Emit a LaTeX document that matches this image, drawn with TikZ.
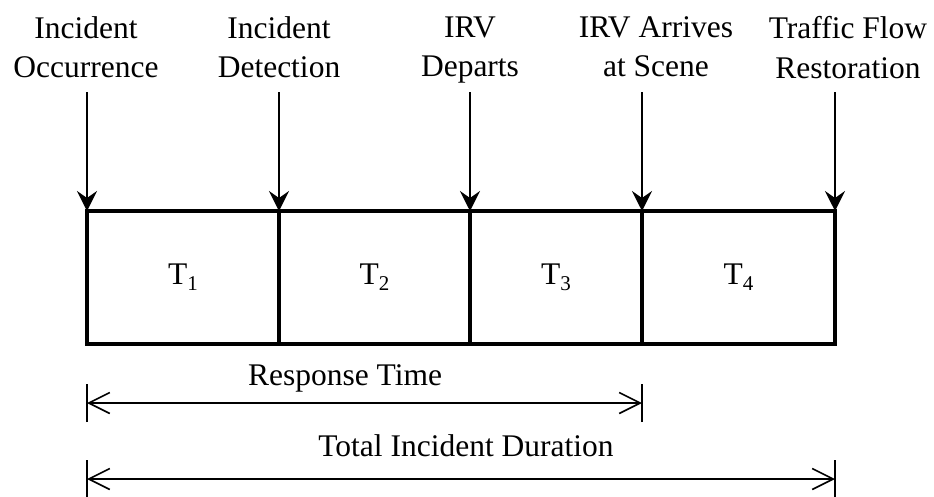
\documentclass[tikz,border=0pt]{standalone}
\usepackage{fontspec}
\setmainfont{Liberation Serif}
\usetikzlibrary{arrows.meta}
\newcommand{\lowidx}[1]{\raisebox{-6pt}{\fontsize{21}{21}\selectfont #1}}
\begin{document}
\begin{tikzpicture}[x=1pt,y=-1pt,
  every node/.style={font=\fontsize{31.5}{39.5}\selectfont, inner sep=0pt, outer sep=0pt},
  event/.style={anchor=north, align=center},
  cell/.style={draw, line width=3.5pt, minimum height=133pt},
  marker/.style={line width=1.8pt, -{Stealth[length=20pt, width=20pt, inset=7pt]}},
  span/.style={line width=1.6pt, {Straight Barb[length=21pt, width=21pt]}-{Straight Barb[length=21pt, width=21pt]}},
  spanbar/.style={line width=1.8pt}
]
\useasboundingbox (0,0) rectangle (934,496);

% timeline cells
\node[cell, minimum width=192pt] (c1) at (183,277.5) {T\lowidx{1}};
\node[cell, minimum width=191pt] (c2) at (374.5,277.5) {T\lowidx{2}};
\node[cell, minimum width=172pt] (c3) at (556,277.5) {T\lowidx{3}};
\node[cell, minimum width=193pt] (c4) at (738.5,277.5) {T\lowidx{4}};

% event labels
\node[event] (e1) at (86,16.5) {Incident\\Occurrence};
\node[event] (e2) at (279,16.5) {Incident\\Detection};
\node[event] (e3) at (470,16.5) {IRV\\Departs};
\node[event] (e4) at (656,16.5) {IRV Arrives\\at Scene};
\node[event] (e5) at (848,16.5) {Traffic Flow\\Restoration};

% event markers
\coordinate (a1) at (87,92);
\coordinate (a2) at (279,92);
\coordinate (a3) at (470,92);
\coordinate (a4) at (642,92);
\coordinate (a5) at (835,92);
\draw[marker] (a1) -- (c1.north west);
\draw[marker] (a2) -- (c2.north west);
\draw[marker] (a3) -- (c3.north west);
\draw[marker] (a4) -- (c4.north west);
\draw[marker] (a5) -- (c4.north east);

% response time span
\node (rt) at (345,378) {Response Time};
\coordinate (rs) at (87,403);
\coordinate (re) at (642,403);
\draw[span] (rs) -- (re);
\draw[spanbar] ([yshift=-19pt]rs) -- ([yshift=19pt]rs);
\draw[spanbar] ([yshift=-19pt]re) -- ([yshift=19pt]re);

% total duration span
\node (td) at (466,446) {Total Incident Duration};
\coordinate (ts) at (87,479);
\coordinate (te) at (835,479);
\draw[span] (ts) -- (te);
\draw[spanbar] ([yshift=-19pt]ts) -- ([yshift=19pt]ts);
\draw[spanbar] ([yshift=-19pt]te) -- ([yshift=19pt]te);
\end{tikzpicture}
\end{document}
